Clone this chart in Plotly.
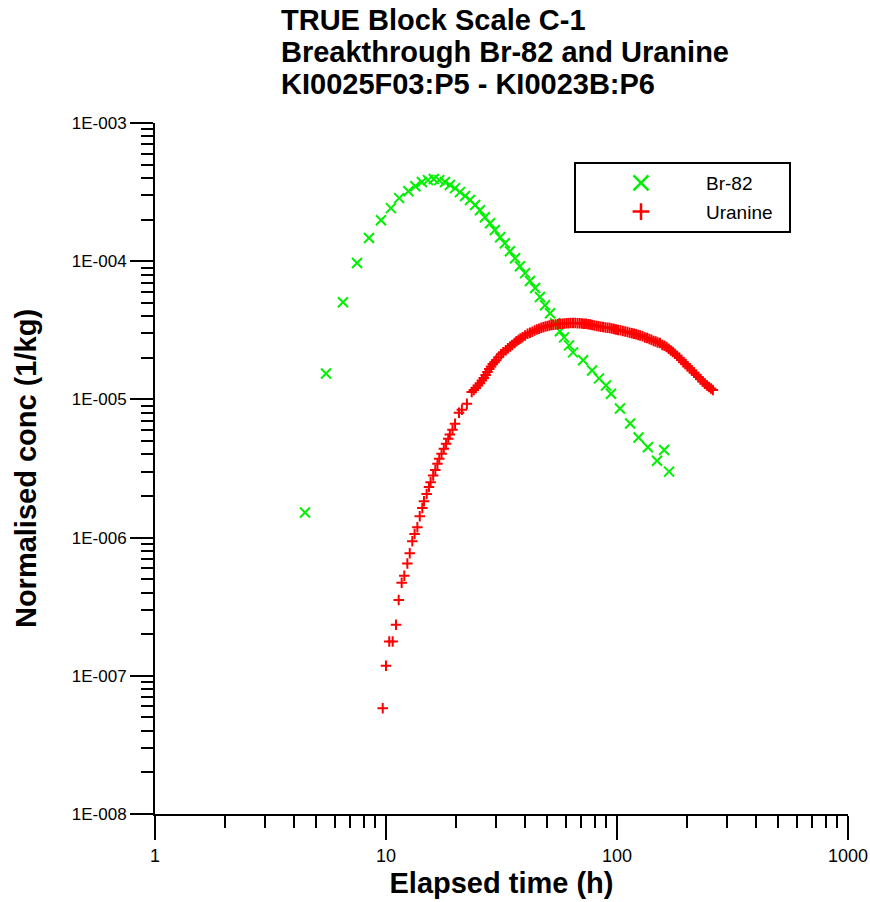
import plotly.graph_objects as go

# ---- data ----
br_t = [4.46, 5.50, 6.51, 7.49, 8.44, 9.51, 10.5, 11.4, 12.5, 13.4,
        14.3, 15.2, 16.1, 17.0, 18.0, 18.9, 19.9, 20.9, 22.0, 23.1,
        24.3, 25.5, 26.8, 28.2, 29.6, 31.2, 32.7, 34.4, 36.2, 38.0,
        40.0, 42.0, 44.2, 46.4, 48.8, 51.3, 53.9, 56.6, 59.0, 62.0,
        64.5, 71.3, 78.0, 83.6, 89.6, 94.2, 103, 114, 124, 136,
        149, 160, 168]
br_c = [1.52e-6, 1.54e-5, 5.05e-5, 9.7e-5, 1.47e-4, 1.98e-4, 2.42e-4, 2.86e-4, 3.21e-4, 3.49e-4,
        3.74e-4, 3.86e-4, 3.93e-4, 3.86e-4, 3.74e-4, 3.56e-4, 3.38e-4, 3.16e-4, 2.96e-4, 2.77e-4,
        2.55e-4, 2.34e-4, 2.08e-4, 1.88e-4, 1.68e-4, 1.49e-4, 1.35e-4, 1.18e-4, 1.05e-4, 9.2e-5,
        8.2e-5, 7.2e-5, 6.4e-5, 5.5e-5, 4.8e-5, 4.2e-5, 3.56e-5, 3.11e-5, 2.81e-5, 2.46e-5,
        2.19e-5, 1.92e-5, 1.62e-5, 1.42e-5, 1.26e-5, 1.10e-5, 8.6e-6, 6.7e-6, 5.3e-6, 4.5e-6,
        3.6e-6, 4.3e-6, 3.0e-6]

# Uranine: sparse rising limb
ur_t_rise = [9.68, 10.0, 10.33, 10.69, 11.05, 11.35, 11.69, 12.0, 12.37, 12.67,
             13.0, 13.3, 13.67, 14.0, 14.36, 14.6, 15.0, 15.35, 15.6, 16.0,
             16.35, 16.7, 17.0, 17.4, 17.8, 18.2, 18.6, 18.9, 19.4, 19.9,
             20.7, 21.3, 22.4, 23.5]
ur_c_rise = [5.83e-8, 1.18e-7, 1.77e-7, 1.77e-7, 2.34e-7, 3.53e-7, 4.72e-7, 5.3e-7, 6.5e-7, 7.7e-7,
             9.4e-7, 1.06e-6, 1.19e-6, 1.43e-6, 1.64e-6, 1.83e-6, 2.07e-6, 2.32e-6, 2.52e-6, 2.81e-6,
             3.09e-6, 3.42e-6, 3.72e-6, 4.04e-6, 4.40e-6, 4.78e-6, 5.19e-6, 5.57e-6, 6.03e-6, 6.67e-6,
             8.0e-6, 8.4e-6, 9.3e-6, 1.13e-5]
# Uranine: dense band (peak and tail)
ur_t_band = [24, 24.5, 25, 25.5, 26, 26.5, 27, 27.5, 28, 28.5, 29, 29.5, 30, 30.7, 31.5, 32.2,
             33, 33.7, 34.5, 35.2, 36, 36.7, 37.5, 38.2, 39, 40, 41, 42, 43, 44, 45, 46,
             47, 48, 49, 50, 51, 52, 53, 54.2, 55.5, 56.7, 58, 59.2, 60.5, 61.7, 63, 64.5,
             66, 67.5, 69, 70.5, 72, 73.5, 75, 76.5, 78, 79.7, 81.5, 83.2, 85, 87, 89, 91,
             93, 95, 97, 99, 101, 103.5, 106, 108.5, 111, 113.5, 116, 118.5, 121, 123.5, 126, 129,
             132, 135, 138, 141, 144, 147, 150, 153.5, 157, 160.5, 164, 167.5, 171, 174.5, 178, 182,
             186, 190, 194, 198, 202, 206.5, 211, 215.5, 220, 225, 230, 235, 240, 245, 250, 255, 260]
ur_c_band = [1.17e-5, 1.21e-5, 1.26e-5, 1.31e-5, 1.37e-5, 1.43e-5, 1.50e-5, 1.58e-5, 1.66e-5, 1.73e-5,
             1.80e-5, 1.86e-5, 1.92e-5, 2.02e-5, 2.12e-5, 2.19e-5, 2.27e-5, 2.34e-5, 2.41e-5, 2.48e-5,
             2.56e-5, 2.63e-5, 2.70e-5, 2.76e-5, 2.82e-5, 2.90e-5, 2.98e-5, 3.03e-5, 3.09e-5, 3.15e-5,
             3.21e-5, 3.25e-5, 3.30e-5, 3.33e-5, 3.37e-5, 3.40e-5, 3.43e-5, 3.45e-5, 3.47e-5, 3.48e-5,
             3.50e-5, 3.52e-5, 3.53e-5, 3.54e-5, 3.55e-5, 3.56e-5, 3.57e-5, 3.57e-5, 3.57e-5, 3.56e-5,
             3.55e-5, 3.54e-5, 3.53e-5, 3.52e-5, 3.50e-5, 3.48e-5, 3.45e-5, 3.43e-5, 3.40e-5, 3.38e-5,
             3.36e-5, 3.34e-5, 3.32e-5, 3.30e-5, 3.28e-5, 3.26e-5, 3.23e-5, 3.21e-5, 3.18e-5, 3.16e-5,
             3.13e-5, 3.10e-5, 3.07e-5, 3.04e-5, 3.01e-5, 2.99e-5, 2.96e-5, 2.93e-5, 2.90e-5, 2.86e-5,
             2.81e-5, 2.78e-5, 2.74e-5, 2.70e-5, 2.65e-5, 2.62e-5, 2.58e-5, 2.56e-5, 2.48e-5, 2.44e-5,
             2.39e-5, 2.33e-5, 2.26e-5, 2.20e-5, 2.14e-5, 2.07e-5, 2.00e-5, 1.93e-5, 1.86e-5, 1.80e-5,
             1.74e-5, 1.68e-5, 1.62e-5, 1.56e-5, 1.51e-5, 1.45e-5, 1.40e-5, 1.35e-5, 1.30e-5, 1.26e-5,
             1.23e-5, 1.20e-5, 1.17e-5]

title_lines = ["TRUE Block Scale C-1",
               "Breakthrough Br-82 and Uranine",
               "KI0025F03:P5 - KI0023B:P6"]
x_tickvals = [1, 10, 100, 1000]
x_ticktext = ["1", "10", "100", "1000"]
y_tickvals = [1e-8, 1e-7, 1e-6, 1e-5, 1e-4, 1e-3]
y_ticktext = ["1E-008", "1E-007", "1E-006", "1E-005", "1E-004", "1E-003"]

GREEN = "#00F000"
RED = "#FF0000"
FONT = "Arial, Liberation Sans, sans-serif"

x_minor = [m * 10 ** d for d in range(0, 3) for m in range(2, 10)]
y_minor = [m * 10.0 ** d for d in range(-8, -3) for m in range(2, 10)]

ur_t = ur_t_rise + ur_t_band
ur_c = ur_c_rise + ur_c_band

fig = go.Figure()
fig.add_trace(go.Scatter(
    x=br_t, y=br_c, mode="markers", name="Br-82", showlegend=False,
    marker=dict(symbol="x-thin", size=10, line=dict(color=GREEN, width=2), color=GREEN)))
fig.add_trace(go.Scatter(
    x=ur_t, y=ur_c, mode="markers", name="Uranine", showlegend=False,
    marker=dict(symbol="cross-thin", size=7.5, line=dict(color=RED, width=2), color=RED)))
# legend entries (larger symbols as in the reference legend)
fig.add_trace(go.Scatter(
    x=[None], y=[None], mode="markers", name="Br-82", legendgroup="a",
    marker=dict(symbol="x-thin", size=15, line=dict(color=GREEN, width=2.5), color=GREEN)))
fig.add_trace(go.Scatter(
    x=[None], y=[None], mode="markers", name="Uranine\u00a0\u00a0", legendgroup="b",
    marker=dict(symbol="cross-thin", size=12, line=dict(color=RED, width=2.5), color=RED)))

# title: three left-aligned lines
PLOT_TOP, PLOT_H, PLOT_L, PLOT_W = 123, 691, 155, 693
for i, line in enumerate(title_lines):
    fig.add_annotation(
        text=line, showarrow=False,
        xref="paper", yref="paper",
        x=(279 - PLOT_L) / PLOT_W, xanchor="left",
        y=(PLOT_TOP + PLOT_H - (20 + 32 * i)) / PLOT_H, yanchor="middle",
        font=dict(family=FONT, size=29, color="black", weight="bold"))

fig.update_layout(
    width=870, height=902,
    margin=dict(l=155, r=22, t=123, b=88),
    paper_bgcolor="white", plot_bgcolor="white",
    font=dict(family=FONT, color="black"),
    showlegend=True,
    legend=dict(
        x=(574 - 155) / 693, xanchor="left",
        y=(814 - 162) / 691, yanchor="top",
        bgcolor="white", bordercolor="black", borderwidth=2,
        itemwidth=120, tracegroupgap=1,
        font=dict(family=FONT, size=19, color="black")),
)

fig.update_xaxes(
    type="log", range=[0, 3], automargin=False,
    showline=True, linecolor="black", linewidth=2,
    showgrid=False, zeroline=False, mirror=False,
    tickmode="array", tickvals=x_tickvals, ticktext=x_ticktext,
    ticks="outside", ticklen=24, tickwidth=2, tickcolor="black",
    tickfont=dict(family=FONT, size=18, color="black"),
    minor=dict(tickmode="array", tickvals=x_minor, ticks="outside",
               ticklen=12, tickwidth=2, tickcolor="black", showgrid=False),
    title=dict(text="Elapsed time (h)", standoff=8,
               font=dict(family=FONT, size=29, color="black", weight="bold")),
)
fig.update_yaxes(
    type="log", range=[-8, -3], automargin=False,
    showline=True, linecolor="black", linewidth=2,
    showgrid=False, zeroline=False, mirror=False,
    tickmode="array", tickvals=y_tickvals, ticktext=y_ticktext,
    ticks="outside", ticklen=23, tickwidth=2, tickcolor="black",
    tickfont=dict(family=FONT, size=17, color="black"),
    minor=dict(tickmode="array", tickvals=y_minor, ticks="outside",
               ticklen=12, tickwidth=2, tickcolor="black", showgrid=False),
    title=dict(text="Normalised conc (1/kg)", standoff=27,
               font=dict(family=FONT, size=29, color="black", weight="bold")),
)

fig.write_html("out.html")
